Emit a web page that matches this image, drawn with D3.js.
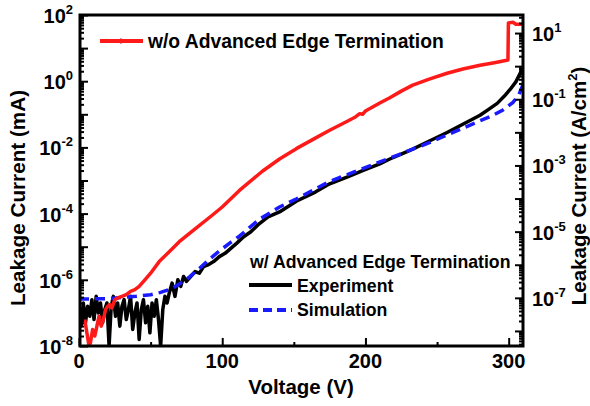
<!DOCTYPE html>
<html>
<head>
<meta charset="utf-8">
<script src="https://cdn.jsdelivr.net/npm/d3@7"></script>
<style>
  body { margin: 0; background: #fff; }
  text { font-family: "Liberation Sans", Arial, sans-serif; font-weight: bold; fill: #000; }
</style>
</head>
<body>
<div id="chart"></div>
<script>
// Data: currents stored as log10 of leakage current (mA)
const redV   = [4, 5.5, 7, 8, 9.5, 11, 12.5, 14, 15.5, 17, 18.5, 20, 21.5, 23, 25, 27, 30, 33, 36, 39, 42, 46, 50, 56, 63, 70, 80, 93, 100, 112, 128, 140, 152, 165, 175, 186, 193, 196, 198, 200, 210, 217, 225, 233, 245, 257, 268, 280, 290, 299.5, 299.8, 303, 305, 310];
const redLog = [-7.2, -7.6, -8.0, -7.9, -7.5, -7.7, -7.4, -7.1, -7.4, -7.2, -6.9, -6.8, -6.75, -6.85, -6.6, -6.55, -6.5, -6.45, -6.35, -6.3, -6.2, -6.0, -5.8, -5.45, -5.15, -4.85, -4.5, -4.05, -3.8, -3.3, -2.72, -2.35, -2.03, -1.72, -1.48, -1.24, -1.08, -0.98, -1.0, -0.9, -0.66, -0.5, -0.3, -0.12, 0.07, 0.24, 0.37, 0.48, 0.56, 0.64, 1.76, 1.78, 1.72, 1.72];

const expV   = [0, 1.5, 3, 4.5, 6, 7.5, 9, 10.5, 12, 13.5, 15, 16.5, 18, 19.5, 21, 22.5, 24, 25.5, 27, 28.5, 30, 31.5, 33, 34.5, 36, 37.5, 39, 40.5, 42, 43.5, 45, 46.5, 48, 49.5, 51, 52.5, 54, 55.5, 57, 58.5, 60, 61.5,
                63, 65, 67, 69, 71, 73, 75, 78, 81, 84, 87, 90, 94, 98, 102, 106, 110, 115, 120, 126, 132, 140, 152, 165, 175, 188, 198, 210, 217, 225, 233, 245, 257, 268, 280, 286, 292, 297, 301, 305, 309, 310];
const expLog = [-7.0, -7.4, -6.7, -7.3, -6.8, -7.1, -6.6, -7.2, -6.5, -7.0, -6.7, -7.3, -6.9, -6.7, -8.0, -6.8, -6.5, -7.1, -6.7, -7.4, -6.8, -6.6, -7.2, -6.9, -6.5, -7.5, -7.0, -6.7, -7.8, -6.9, -6.6, -7.3, -6.8, -7.6, -6.7, -7.1, -6.6, -7.2, -8.0, -6.9, -6.5, -6.7,
                -6.4, -6.1, -6.5, -6.0, -6.2, -5.9, -6.05, -5.9, -5.75, -5.8, -5.6, -5.55, -5.45, -5.3, -5.2, -5.05, -4.9, -4.7, -4.55, -4.3, -4.1, -3.95, -3.62, -3.35, -3.1, -2.88, -2.7, -2.5, -2.35, -2.2, -2.05, -1.8, -1.55, -1.3, -1.03, -0.85, -0.67, -0.45, -0.25, -0.02, 0.32, 0.42];

const simV   = [0, 20, 40, 50, 57, 64, 70, 77, 84, 91, 98, 105, 112, 126, 140, 152, 175, 198, 222, 245, 268, 289, 296, 303, 307, 310];
const simLog = [-6.58, -6.57, -6.5, -6.45, -6.38, -6.28, -6.13, -5.92, -5.66, -5.38, -5.13, -4.9, -4.68, -4.17, -3.8, -3.55, -3.03, -2.64, -2.24, -1.85, -1.42, -1.03, -0.87, -0.64, -0.42, -0.1];

const xMajor = [0, 100, 200, 300];
const xMinor = [50, 150, 250];
const leftExp  = [-8, -6, -4, -2, 0, 2];
const rightExp = [-7, -5, -3, -1, 1];
const areaRatio = 2.85; // mA per (A/cm^2)

const W = 590, H = 406;
const plot = { left: 80, right: 523, top: 15, bottom: 346 };

const svg = d3.select("#chart").append("svg")
    .attr("width", W).attr("height", H);

const x = d3.scaleLinear().domain([0, 310]).range([plot.left - 1, plot.right]);
const y = d3.scaleLog().domain([1e-8, 1e2]).range([plot.bottom, plot.top]);
const y2 = d3.scaleLog().domain([1e-8 / areaRatio, 1e2 / areaRatio]).range([plot.bottom, plot.top]);

// log ticks: decades + minor 2..9
function logTicks(lo, hi) {
    const major = [], minor = [];
    for (let e = Math.floor(Math.log10(lo)); e <= Math.ceil(Math.log10(hi)); e++) {
        const d = Math.pow(10, e);
        if (d >= lo && d <= hi) major.push(d);
        for (let k = 2; k <= 9; k++) {
            const v = k * d;
            if (v >= lo && v <= hi) minor.push(v);
        }
    }
    return { major, minor };
}

svg.append("clipPath").attr("id", "clip")
    .append("rect")
    .attr("x", plot.left).attr("y", plot.top - 2)
    .attr("width", plot.right - plot.left).attr("height", plot.bottom - plot.top + 2);

const line = d3.line().x(d => x(d[0])).y(d => y(Math.pow(10, d[1])));
const g = svg.append("g").attr("clip-path", "url(#clip)");

g.append("path")
    .datum(d3.zip(expV, expLog))
    .attr("fill", "none").attr("stroke", "#000").attr("stroke-width", 3.5)
    .attr("stroke-linejoin", "round")
    .attr("d", line);

g.append("path")
    .datum(d3.zip(simV, simLog))
    .attr("fill", "none").attr("stroke", "#1a1aff").attr("stroke-width", 3.5)
    .attr("stroke-dasharray", "10,6")
    .attr("d", line);

g.append("path")
    .datum(d3.zip(redV, redLog))
    .attr("fill", "none").attr("stroke", "#ff1a1a").attr("stroke-width", 3.5)
    .attr("stroke-linejoin", "round")
    .attr("d", line);

// Axes (ticks point inward)
const ly = logTicks(1e-8, 1e2);
svg.append("g").attr("transform", `translate(${plot.left},0)`)
    .call(d3.axisLeft(y).tickValues(ly.major).tickSize(-8).tickFormat(""))
    .call(a => a.select(".domain").remove());
svg.append("g").attr("transform", `translate(${plot.left},0)`)
    .call(d3.axisLeft(y).tickValues(ly.minor).tickSize(-4).tickFormat(""))
    .call(a => a.select(".domain").remove());

const ry = logTicks(1e-8 / areaRatio, 1e2 / areaRatio);
svg.append("g").attr("transform", `translate(${plot.right},0)`)
    .call(d3.axisRight(y2).tickValues(ry.major).tickSize(-8).tickFormat(""))
    .call(a => a.select(".domain").remove());
svg.append("g").attr("transform", `translate(${plot.right},0)`)
    .call(d3.axisRight(y2).tickValues(ry.minor).tickSize(-4).tickFormat(""))
    .call(a => a.select(".domain").remove());

svg.append("g").attr("transform", `translate(0,${plot.bottom})`)
    .call(d3.axisBottom(x).tickValues(xMajor).tickSize(-8).tickFormat(""))
    .call(a => a.select(".domain").remove());
svg.append("g").attr("transform", `translate(0,${plot.bottom})`)
    .call(d3.axisBottom(x).tickValues(xMinor).tickSize(-4).tickFormat(""))
    .call(a => a.select(".domain").remove());

svg.selectAll(".tick line").attr("stroke", "#000").attr("stroke-width", 2);

svg.append("rect")
    .attr("x", plot.left).attr("y", plot.top)
    .attr("width", plot.right - plot.left).attr("height", plot.bottom - plot.top)
    .attr("fill", "none").attr("stroke", "#000").attr("stroke-width", 3);

// Tick labels
function powLabel(sel, e) {
    sel.append("tspan").text("10");
    sel.append("tspan").attr("dy", -9).attr("font-size", 13).text(e);
}
leftExp.forEach(e => {
    svg.append("text")
        .attr("x", 73).attr("y", y(Math.pow(10, e)) + 8)
        .attr("text-anchor", "end").attr("font-size", 20)
        .call(powLabel, e);
});
rightExp.forEach(e => {
    svg.append("text")
        .attr("x", 532).attr("y", y2(Math.pow(10, e)) + 8)
        .attr("font-size", 20)
        .call(powLabel, e);
});
xMajor.forEach(v => {
    svg.append("text")
        .attr("x", x(v)).attr("y", 368)
        .attr("text-anchor", "middle").attr("font-size", 20)
        .text(v);
});

// Axis titles
svg.append("text")
    .attr("transform", "translate(301,394)")
    .attr("text-anchor", "middle").attr("font-size", 20.5)
    .text("Voltage (V)");
svg.append("text")
    .attr("transform", "translate(25,198) rotate(-90)")
    .attr("text-anchor", "middle").attr("font-size", 20.7)
    .text("Leakage Current (mA)");
const rt = svg.append("text")
    .attr("transform", "translate(586,186) rotate(-90)")
    .attr("text-anchor", "middle").attr("font-size", 20.5);
rt.append("tspan").text("Leakage Current (A/cm");
rt.append("tspan").attr("dy", -9).attr("font-size", 13).text("2");
rt.append("tspan").attr("dy", 9).text(")");

// Legends
svg.append("line")
    .attr("x1", 100).attr("x2", 143).attr("y1", 41).attr("y2", 41)
    .attr("stroke", "#ff1a1a").attr("stroke-width", 4);
svg.append("line")
    .attr("x1", 121).attr("x2", 121).attr("y1", 38).attr("y2", 44)
    .attr("stroke", "#ff1a1a").attr("stroke-width", 1);
svg.append("text")
    .attr("x", 148).attr("y", 48).attr("font-size", 19.3)
    .text("w/o Advanced Edge Termination");

svg.append("text")
    .attr("x", 250).attr("y", 268).attr("font-size", 17.7)
    .text("w/ Advanced Edge Termination");
svg.append("line")
    .attr("x1", 249).attr("x2", 292).attr("y1", 285).attr("y2", 285)
    .attr("stroke", "#000").attr("stroke-width", 4);
svg.append("text")
    .attr("x", 297).attr("y", 292).attr("font-size", 17.7)
    .text("Experiment");
svg.append("line")
    .attr("x1", 249).attr("x2", 292).attr("y1", 310).attr("y2", 310)
    .attr("stroke", "#1a1aff").attr("stroke-width", 4)
    .attr("stroke-dasharray", "9,5");
svg.append("text")
    .attr("x", 297).attr("y", 316).attr("font-size", 17.7)
    .text("Simulation");
</script>
</body>
</html>
